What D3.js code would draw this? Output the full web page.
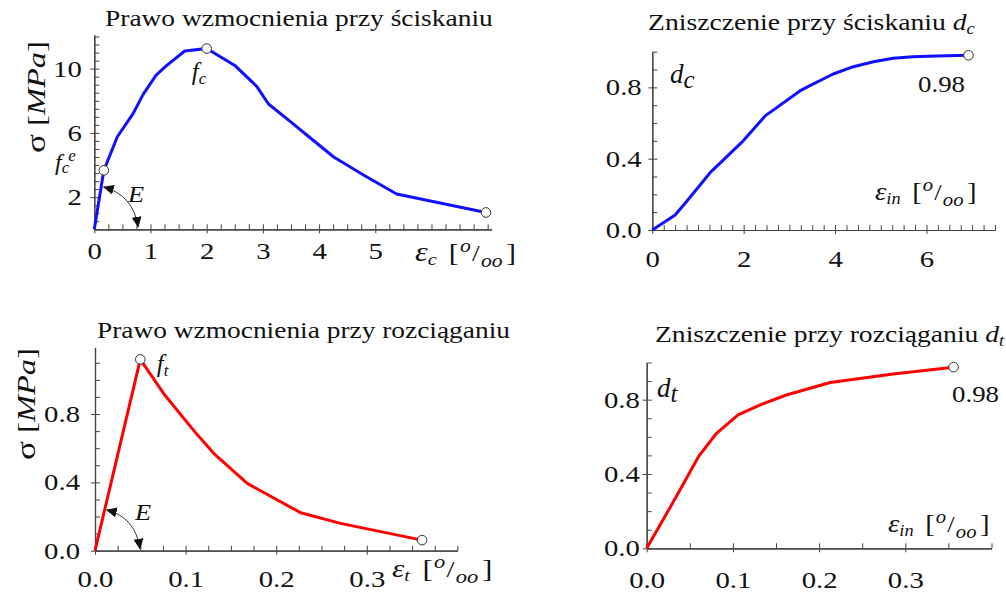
<!DOCTYPE html>
<html>
<head>
<meta charset="utf-8">
<script src="https://cdn.jsdelivr.net/npm/d3@7"></script>
<style>
body { margin: 0; background: #fff; }
text { font-family: "Liberation Serif", "Times New Roman", serif; fill: #111; }
</style>
</head>
<body>
<script>
// compression hardening: strain [o/oo] vs stress [MPa]
const compStrain = [0, 0.17, 0.41, 0.69, 0.87, 1.1, 1.29, 1.61, 2.0, 2.5, 2.89, 3.1, 3.49, 3.84, 4.26, 4.79, 5.38, 6.97]
const compStress = [0, 3.67, 5.76, 7.2, 8.4, 9.6, 10.2, 11.1, 11.25, 10.2, 8.9, 7.8, 6.7, 5.7, 4.5, 3.38, 2.2, 1.05]
const compCircles = [1, 8, 17]

// compression damage dc vs inelastic strain
const dcStrain = [0, 0.5, 0.75, 1.26, 1.99, 2.47, 3.23, 3.45, 3.96, 4.4, 4.84, 5.27, 5.7, 6.22, 6.92]
const dcValue = [0, 0.084, 0.16, 0.32, 0.5, 0.64, 0.78, 0.81, 0.875, 0.916, 0.944, 0.963, 0.972, 0.976, 0.98]
const dcCircles = [14]

// tension hardening
const tensStrain = [0, 0.05, 0.077, 0.11, 0.131, 0.168, 0.227, 0.271, 0.361]
const tensStress = [0, 1.12, 0.911, 0.697, 0.57, 0.394, 0.222, 0.16, 0.062]
const tensCircles = [1, 8]

// tension damage dt
const dtStrain = [0, 0.037, 0.06, 0.081, 0.106, 0.131, 0.162, 0.213, 0.286, 0.356]
const dtValue = [0, 0.3, 0.493, 0.619, 0.718, 0.771, 0.825, 0.892, 0.938, 0.975]
const dtCircles = [9]

// tick labels
const compXLabels = [0, 1, 2, 3, 4, 5]
const compYLabels = [2, 6, 10]
const dcXLabels = [0, 2, 4, 6]
const dYLabels = [0, 0.4, 0.8]
const tXLabels = [0, 0.1, 0.2, 0.3]

const svg = d3.select('body').append('svg')
    .attr('width', 1006)
    .attr('height', 595)

// double headed arrow marker
svg.append('defs').append('marker')
    .attr('id', 'ah')
    .attr('viewBox', '0 0 10 10')
    .attr('refX', 9).attr('refY', 5)
    .attr('markerWidth', 11).attr('markerHeight', 11)
    .attr('markerUnits', 'userSpaceOnUse')
    .attr('orient', 'auto-start-reverse')
  .append('path')
    .attr('d', 'M0,0.5 L10,5 L0,9.5 z')
    .attr('fill', '#111')

// text with sub/superscripts, parts: {t, s (size), i (italic), b (baseline shift), dx}
// k stretches the text horizontally (the reference font is wider than Liberation)
function rich(x, y, parts, k = 1, rotate = false) {
    const t = svg.append('text').attr('x', x).attr('y', y)
    if (rotate) {
        t.attr('text-anchor', 'middle')
            .attr('transform', `rotate(-90,${x},${y}) translate(${x},${y}) scale(${k},1) translate(${-x},${-y})`)
    } else {
        t.attr('transform', `translate(${x},0) scale(${k},1) translate(${-x},0)`)
    }
    let prev = 0
    parts.forEach(p => {
        const b = p.b || 0
        t.append('tspan')
            .attr('dy', b - prev)
            .attr('dx', p.dx || 0)
            .style('font-size', p.s + 'px')
            .style('font-style', p.i ? 'italic' : 'normal')
            .text(p.t)
        prev = b
    })
    return t
}

// stretch a text horizontally so it spans the given width
function fit(t, x, w) {
    t.attr('transform', null)
    const bw = t.node().getBBox().width
    t.attr('transform', `translate(${x},0) scale(${w / bw},1) translate(${-x},0)`)
}

function range(a, b, step) {
    return d3.range(Math.round((b - a) / step) + 1).map(i => +(a + i * step).toFixed(4))
}

function panel(o) {
    const x = d3.scaleLinear().domain(o.xDomain).range(o.xRange)
    const y = d3.scaleLinear().domain(o.yDomain).range(o.yRange)
    const g = svg.append('g').attr('color', '#444')

    // minor ticks, pointing inside
    g.append('g')
        .attr('transform', `translate(0,${o.yRange[0]})`)
        .call(d3.axisBottom(x).tickValues(o.xMinor).tickSize(-5).tickSizeOuter(0).tickFormat(''))
    g.append('g')
        .attr('transform', `translate(${o.xRange[0]},0)`)
        .call(d3.axisLeft(y).tickValues(o.yMinor).tickSize(-5).tickSizeOuter(0).tickFormat(''))

    // labelled ticks
    const xa = g.append('g')
        .attr('transform', `translate(0,${o.yRange[0]})`)
        .call(d3.axisBottom(x).tickValues(o.xLabels).tickSize(4).tickSizeOuter(0)
            .tickPadding(o.xPad).tickFormat(o.fmt))
    const ya = g.append('g')
        .attr('transform', `translate(${o.xRange[0]},0)`)
        .call(d3.axisLeft(y).tickValues(o.yLabels).tickSize(4).tickSizeOuter(0)
            .tickPadding(o.yPad).tickFormat(o.yfmt || o.fmt))
    g.selectAll('.tick line').attr('stroke-width', 1)
    g.selectAll('.domain').attr('stroke-width', 1.2)
    xa.selectAll('text').style('font-size', '23px').attr('transform', 'scale(1.25,1)')
    ya.selectAll('text').style('font-size', '23px').attr('transform', 'scale(1.25,1)')

    const pts = o.xs.map((v, i) => [v, o.ys[i]])
    const line = d3.line().x(d => x(d[0])).y(d => y(d[1]))
    svg.append('path')
        .datum(pts)
        .attr('d', line)
        .attr('fill', 'none')
        .attr('stroke', o.color)
        .attr('stroke-width', 3)
        .attr('stroke-linejoin', 'round')

    svg.selectAll(null)
        .data(o.circles.map(i => pts[i]))
        .enter()
        .append('circle')
            .attr('cx', d => x(d[0]))
            .attr('cy', d => y(d[1]))
            .attr('r', 4.8)
            .attr('fill', '#fff')
            .attr('stroke', '#333')
            .attr('stroke-width', 1)

    if (o.arc) {
        const [s, c, e] = o.arc
        svg.append('path')
            .attr('d', `M${x(s[0])},${y(s[1])} Q${x(c[0])},${y(c[1])} ${x(e[0])},${y(e[1])}`)
            .attr('fill', 'none')
            .attr('stroke', '#333')
            .attr('stroke-width', 1)
            .attr('marker-start', 'url(#ah)')
            .attr('marker-end', 'url(#ah)')
    }
    return {x, y}
}

// strain unit [o/oo]
function unit() {
    return [
        {t: '[', s: 25, dx: 10},
        {t: 'o', s: 18, i: true, b: -9, dx: 1},
        {t: '/', s: 23, b: 0, dx: 1},
        {t: 'oo', s: 18, i: true, b: 6, dx: 1},
        {t: ']', s: 25, b: 0, dx: 3}
    ]
}
const sigma = [{t: 'σ', s: 27}, {t: ' [', s: 25}, {t: 'MPa', s: 25, i: true}, {t: ']', s: 25}]

// ---- top left: compression hardening
panel({
    xDomain: [0, 7.07], xRange: [94.3, 491.6],
    yDomain: [0, 12.1], yRange: [229.3, 34.9],
    xMinor: range(0, 7, 0.25), yMinor: range(0, 12, 0.5),
    xLabels: compXLabels, yLabels: compYLabels,
    xPad: 9, yPad: 6, fmt: d3.format('d'),
    xs: compStrain, ys: compStress, circles: compCircles, color: '#1010ff',
    arc: [[0.17, 2.63], [0.69, 2.13], [0.78, 0.16]]
})
fit(rich(105, 26, [{t: 'Prawo wzmocnienia przy ściskaniu', s: 24}]), 105, 388)
rich(45, 97, sigma, 1.3, true)
rich(415, 261, [{t: 'ε', s: 27, i: true}, {t: 'c', s: 17, i: true, b: 4}].concat(unit()), 1.2)
rich(191.7, 80, [{t: 'f', s: 25, i: true}, {t: 'c', s: 17, i: true, b: 4}])
rich(55, 170, [{t: 'f', s: 24, i: true}, {t: 'c', s: 17, i: true, b: 3}, {t: 'e', s: 17, i: true, b: -9, dx: -1}])
rich(128, 201.7, [{t: 'E', s: 24, i: true}], 1.1)

// ---- top right: compression damage
panel({
    xDomain: [0, 7.5], xRange: [652.3, 995],
    yDomain: [0, 1], yRange: [230, 51.7],
    xMinor: range(0, 7.5, 0.25), yMinor: range(0, 1, 0.1),
    xLabels: dcXLabels, yLabels: dYLabels,
    xPad: 17, yPad: 4.5, fmt: d3.format('d'), yfmt: d3.format('.1f'),
    xs: dcStrain, ys: dcValue, circles: dcCircles, color: '#1010ff'
})
fit(rich(648, 30, [{t: 'Zniszczenie przy ściskaniu ', s: 24}, {t: 'd', s: 24, i: true}, {t: 'c', s: 16, i: true, b: 4}]), 648, 327)
rich(670, 83, [{t: 'd', s: 27, i: true}, {t: 'c', s: 25, i: true, b: 5}])
rich(918, 92, [{t: '0.98', s: 24}], 1.12)
rich(875, 200, [{t: 'ε', s: 25, i: true}, {t: 'in', s: 16, i: true, b: 4}].concat(unit()), 1.15)

// ---- bottom left: tension hardening
panel({
    xDomain: [0, 0.4], xRange: [95, 457.4],
    yDomain: [0, 1.19], yRange: [550.7, 347.4],
    xMinor: range(0, 0.4, 0.025), yMinor: range(0, 1.1, 0.1),
    xLabels: tXLabels, yLabels: dYLabels,
    xPad: 16, yPad: 8, fmt: d3.format('.1f'),
    xs: tensStrain, ys: tensStress, circles: tensCircles, color: '#ff0000',
    arc: [[0.013, 0.238], [0.0442, 0.197], [0.0497, 0.012]]
})
fit(rich(97, 338.3, [{t: 'Prawo wzmocnienia przy rozciąganiu', s: 24}]), 97, 413)
rich(35, 404, sigma, 1.3, true)
rich(392, 577, [{t: 'ε', s: 25, i: true}, {t: 't', s: 16, i: true, b: 4}].concat(unit()), 1.25)
rich(156.7, 371.7, [{t: 'f', s: 25, i: true}, {t: 't', s: 17, i: true, b: 4}])
rich(135, 520, [{t: 'E', s: 24, i: true}], 1.1)

// ---- bottom right: tension damage
panel({
    xDomain: [0, 0.4], xRange: [646.7, 991.5],
    yDomain: [0, 1], yRange: [548.3, 362.5],
    xMinor: range(0, 0.4, 0.05), yMinor: range(0, 1, 0.1),
    xLabels: tXLabels, yLabels: dYLabels,
    xPad: 19, yPad: 1.5, fmt: d3.format('.1f'),
    xs: dtStrain, ys: dtValue, circles: dtCircles, color: '#ff0000'
})
fit(rich(655, 341.7, [{t: 'Zniszczenie przy rozciąganiu ', s: 24}, {t: 'd', s: 24, i: true}, {t: 't', s: 16, i: true, b: 4}]), 655, 350)
rich(657, 397, [{t: 'd', s: 27, i: true}, {t: 't', s: 25, i: true, b: 5}])
rich(952, 401.7, [{t: '0.98', s: 24}], 1.12)
rich(888, 532, [{t: 'ε', s: 25, i: true}, {t: 'in', s: 16, i: true, b: 4}].concat(unit()), 1.15)
</script>
</body>
</html>
